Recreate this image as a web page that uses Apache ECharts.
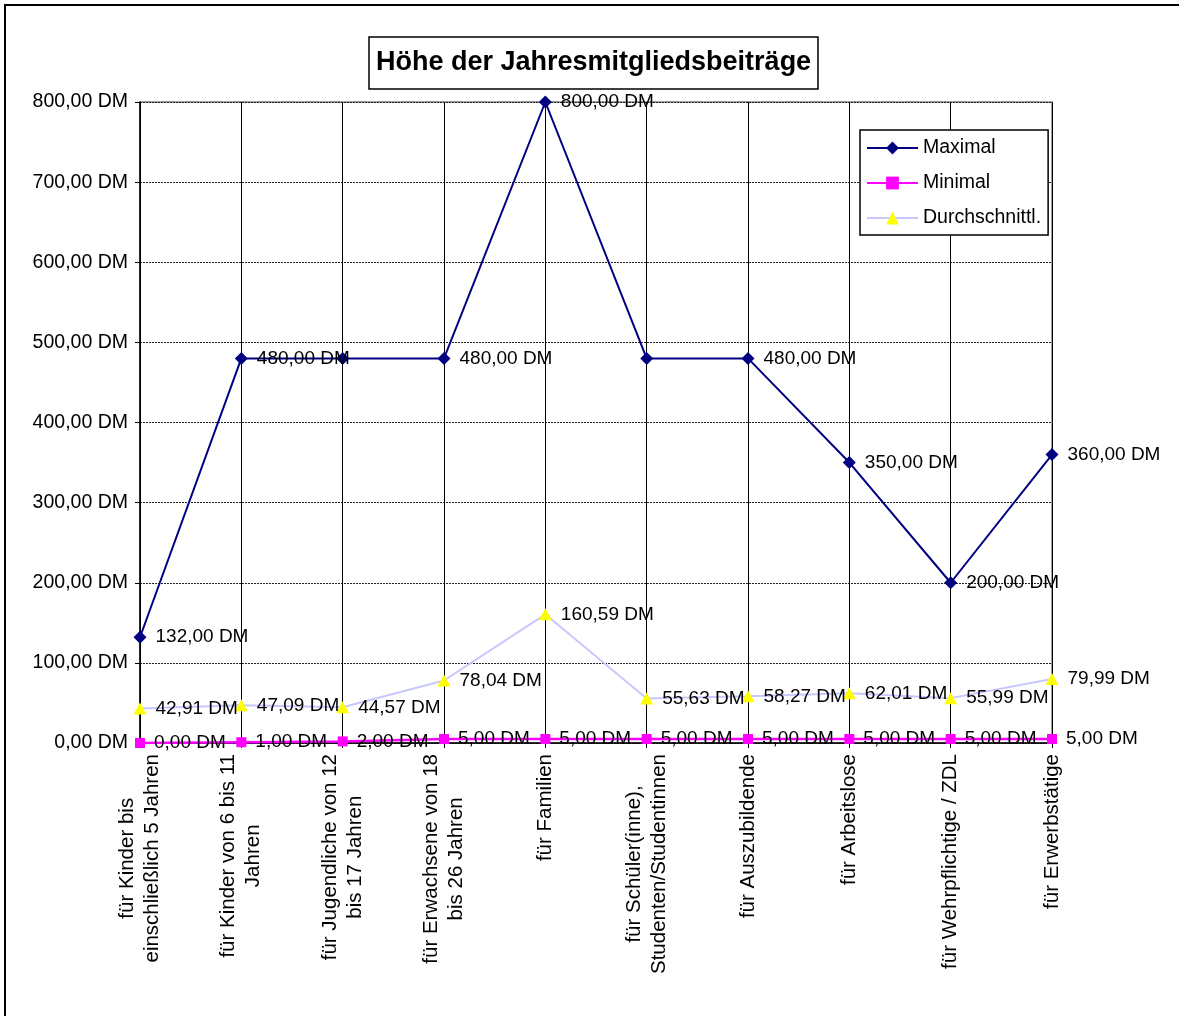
<!DOCTYPE html>
<html>
<head>
<meta charset="utf-8">
<title>Höhe der Jahresmitgliedsbeiträge</title>
<script src="https://cdn.jsdelivr.net/npm/echarts@6/dist/echarts.min.js"></script>
<style>
	html, body { margin: 0; padding: 0; background: #fff; }
	#main { width: 1179px; height: 1016px; }
</style>
</head>
<body>
<div id="main"></div>
<script>
// Kategorien (x-Achse)
var categories = [
	'für Kinder bis\neinschließlich 5 Jahren',
	'für Kinder von 6 bis 11\nJahren',
	'für Jugendliche von 12\nbis 17 Jahren',
	'für Erwachsene von 18\nbis 26 Jahren',
	'für Familien',
	'für Schüler(inne),\nStudenten/Studentinnen',
	'für Auszubildende',
	'für Arbeitslose',
	'für Wehrpflichtige / ZDL',
	'für Erwerbstätige'
];

// Werte in DM
var maximal = [132, 480, 480, 480, 800, 480, 480, 350, 200, 360];
var minimal = [0, 1, 2, 5, 5, 5, 5, 5, 5, 5];
var durchschnitt = [42.91, 47.09, 44.57, 78.04, 160.59, 55.63, 58.27, 62.01, 55.99, 79.99];

// im Original ohne Beschriftung (Index der Maximal-Werte)
var maximalOhneLabel = [2, 5];

// Beschriftung der y-Achse
var yTickLabels = ['0,00 DM', '100,00 DM', '200,00 DM', '300,00 DM', '400,00 DM',
	'500,00 DM', '600,00 DM', '700,00 DM', '800,00 DM'];

var FONT = '"Liberation Sans", Arial, sans-serif';

function dm(v) {
	return v.toFixed(2).replace('.', ',') + ' DM';
}

/**
 * Diagramm erzeugen
 */
var myChartBeitraege = function() {
	var myChart = echarts.init(document.getElementById('main'));

	var dataLabel = {
		show : true,
		position : 'right',
		distance : 9,
		color : '#000',
		fontSize : 19,
		fontFamily : FONT,
		formatter : function(p) {
			return dm(p.value);
		}
	};

	var maximalData = maximal.map(function(v, i) {
		if (maximalOhneLabel.indexOf(i) >= 0) {
			return { value : v, label : { show : false } };
		}
		return v;
	});

	var option = {
		backgroundColor : '#fff',
		animation : false,
		graphic : [ {
			type : 'rect',
			shape : { x : 5, y : 5, width : 1300, height : 1200 },
			style : { fill : 'none', stroke : '#000', lineWidth : 2 },
			silent : true
		} ],
		title : {
			text : 'Höhe der Jahresmitgliedsbeiträge',
			left : 369,
			top : 37,
			padding : [ 12, 7, 13, 7 ],
			borderColor : '#000',
			borderWidth : 1.5,
			backgroundColor : '#fff',
			textStyle : {
				fontFamily : FONT,
				fontSize : 27,
				fontWeight : 'bold',
				color : '#000'
			}
		},
		legend : {
			orient : 'vertical',
			left : 860,
			top : 130,
			padding : [ 8, 7, 7, 6 ],
			itemWidth : 51,
			itemHeight : 16,
			itemGap : 15,
			itemTextGap : 3,
			borderColor : '#000',
			borderWidth : 1.5,
			backgroundColor : '#fff',
			textStyle : {
				fontFamily : FONT,
				fontSize : 19.5,
				lineHeight : 20,
				color : '#000'
			},
			data : [ 'Maximal', 'Minimal', 'Durchschnittl.' ]
		},
		grid : {
			left : 140,
			right : 127,
			top : 102,
			bottom : 273,
			show : true,
			borderColor : '#808080',
			borderWidth : 1.5,
			backgroundColor : '#fff'
		},
		xAxis : {
			type : 'category',
			data : categories,
			boundaryGap : false,
			axisLine : { lineStyle : { color : '#000', width : 1.5 } },
			axisTick : { show : true, inside : false, length : 5, interval : 0, lineStyle : { color : '#000' } },
			splitLine : { show : true, interval : 0, lineStyle : { color : '#000', width : 1 } },
			axisLabel : {
				interval : 0,
				rotate : 90,
				margin : 11,
				color : '#000',
				fontFamily : FONT,
				fontSize : 20.5,
				formatter : function(v) {
					return v.split('\n').map(function(s) {
						return '{c|' + s + '}';
					}).join('\n');
				},
				rich : {
					c : {
						align : 'center',
						fontFamily : FONT,
						fontSize : 20.5,
						lineHeight : 25,
						color : '#000'
					}
				}
			}
		},
		yAxis : {
			type : 'value',
			min : 0,
			max : 800,
			interval : 100,
			axisLine : { show : true, lineStyle : { color : '#000', width : 1.5 } },
			axisTick : { show : true, inside : false, length : 5, lineStyle : { color : '#000' } },
			splitLine : { show : true, lineStyle : { color : '#222', width : 1, type : [ 2, 1 ] } },
			axisLabel : {
				margin : 12,
				color : '#000',
				fontFamily : FONT,
				fontSize : 19.5,
				formatter : function(v) {
					return yTickLabels[Math.round(v / 100)];
				}
			}
		},
		series : [ {
			name : 'Maximal',
			type : 'line',
			data : maximalData,
			symbol : 'diamond',
			symbolSize : 13,
			color : '#000080',
			itemStyle : { color : '#000080' },
			lineStyle : { color : '#000080', width : 2 },
			label : dataLabel
		}, {
			name : 'Minimal',
			type : 'line',
			data : minimal,
			symbol : 'rect',
			symbolSize : 10,
			color : '#ff00ff',
			itemStyle : { color : '#ff00ff' },
			lineStyle : { color : '#ff00ff', width : 2.5 },
			label : dataLabel
		}, {
			name : 'Durchschnittl.',
			type : 'line',
			data : durchschnitt,
			symbol : 'triangle',
			symbolSize : [ 13, 12 ],
			color : '#ffff00',
			itemStyle : { color : '#ffff00' },
			lineStyle : { color : '#c8c8ff', width : 2 },
			label : dataLabel
		} ]
	};

	myChart.setOption(option);
};

myChartBeitraege();
</script>
</body>
</html>
